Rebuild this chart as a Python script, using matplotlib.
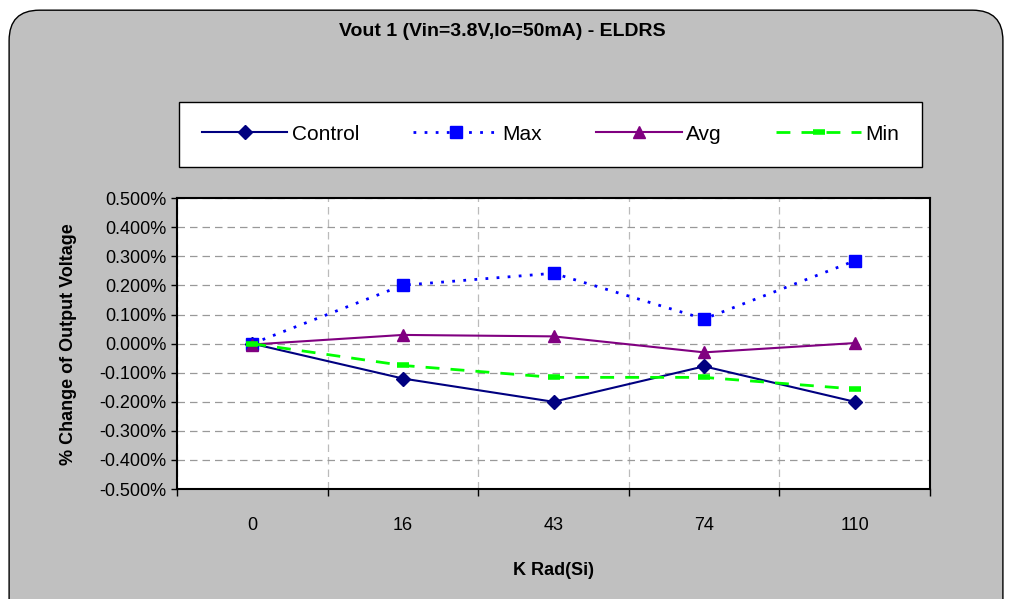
import matplotlib
matplotlib.use('Agg')
import matplotlib.pyplot as plt
from matplotlib.patches import FancyBboxPatch
from matplotlib.ticker import FuncFormatter, MultipleLocator
import numpy as np

plt.rcParams['font.family'] = ['Liberation Sans', 'DejaVu Sans']

categories = ['0', '16', '43', '74', '110']
control = [0.000, -0.120, -0.200, -0.078, -0.200]
max_vals = [0.000, 0.201, 0.242, 0.085, 0.285]
avg_vals = [-0.003, 0.030, 0.025, -0.030, 0.002]
min_vals = [0.000, -0.075, -0.116, -0.116, -0.156]

fig = plt.figure(figsize=(10.11, 5.99), dpi=100)
fig.patch.set_facecolor('white')

# gray chart area with rounded corners
bg = FancyBboxPatch((0.009, -0.05), 0.983, 1.033, boxstyle='round,pad=0,rounding_size=0.03',
                    transform=fig.transFigure, facecolor='#C0C0C0', edgecolor='black',
                    linewidth=1.0, zorder=-10, mutation_aspect=1011 / 599)
fig.patches.append(bg)

ax = fig.add_axes([0.175, 0.1836, 0.745, 0.4854])
ax.set_zorder(1)
ax.set_facecolor('white')

x = np.arange(len(categories))
ax.plot(x, control, color='#000080', linestyle='-', linewidth=1.5, marker='D', markersize=7,
        label='Control', zorder=3)
ax.plot(x, max_vals, color='#0000FF', linestyle=(0, (1, 3)), linewidth=2.0, marker='s', markersize=8,
        label='Max', zorder=3)
ax.plot(x, avg_vals, color='#800080', linestyle='-', linewidth=1.5, marker='^', markersize=9,
        label='Avg', zorder=3)
ax.plot(x, min_vals, color='#00FF00', linestyle=(0, (5, 4)), linewidth=2.0, marker='_', markersize=9,
        markeredgewidth=4, label='Min', zorder=3)

ax.set_xlim(-0.5, len(categories) - 0.5)
ax.set_ylim(-0.5, 0.5)
ax.yaxis.set_major_locator(MultipleLocator(0.1))
ax.yaxis.set_major_formatter(FuncFormatter(lambda v, p: '%.3f%%' % v))
ax.set_xticks(x)
ax.set_xticklabels(categories)
ax.set_xticks(np.arange(-0.5, len(categories), 1.0), minor=True)
ax.tick_params(axis='x', which='major', length=0, pad=20, labelsize=13)
ax.tick_params(axis='x', which='minor', length=5, width=1)
ax.tick_params(axis='y', which='major', length=4, width=1, labelsize=13, direction='out')

ax.grid(True, axis='y', which='major', color='#999999', linestyle=(0, (6, 4)), linewidth=0.9)
ax.grid(True, axis='x', which='minor', color='#BBBBBB', linestyle=(0, (6, 4)), linewidth=0.9)
for s in ax.spines.values():
    s.set_linewidth(1.5)
    s.set_color('black')

ax.set_ylabel('% Change of Output Voltage', fontsize=13, fontweight='bold', labelpad=16)
ax.set_xlabel('K Rad(Si)', fontsize=13, fontweight='bold', labelpad=20)

fig.text(0.497, 0.948, 'Vout 1 (Vin=3.8V,Io=50mA) - ELDRS', ha='center', va='center',
         fontsize=14, fontweight='bold')

leg = fig.legend(loc='center', bbox_to_anchor=(0.5446, 0.776), ncol=4, fontsize=15,
                 frameon=True, fancybox=False, edgecolor='black', facecolor='white', framealpha=1,
                 handlelength=4.1, columnspacing=2.6, borderpad=1.1, handletextpad=0.2)
leg.get_frame().set_linewidth(1.0)

fig.savefig('out.png', dpi=100, facecolor=fig.get_facecolor())
